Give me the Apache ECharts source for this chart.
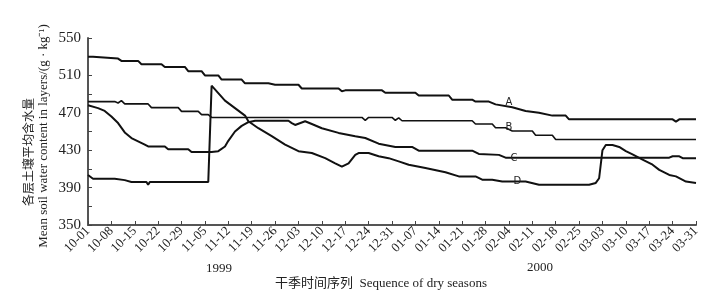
<!DOCTYPE html>
<html>
<head>
<meta charset="utf-8">
<script src="https://cdn.jsdelivr.net/npm/echarts@6/dist/echarts.min.js"></script>
<style>
  html, body { margin: 0; padding: 0; background: #fff; }
  #chart { width: 717px; height: 301px; }
</style>
</head>
<body>
<div id="chart"></div>
<script>
// x = days since 1999-10-01
const xTickLabels = ['10-01', '10-08', '10-15', '10-22', '10-29', '11-05', '11-12', '11-19', '11-26',
  '12-03', '12-10', '12-17', '12-24', '12-31', '01-07', '01-14', '01-21', '01-28', '02-04', '02-11',
  '02-18', '02-25', '03-03', '03-10', '03-17', '03-24', '03-31'];
const yTickLabels = [350, 390, 430, 470, 510, 550];

const daysA = [0, 1.5, 2, 9, 10, 15, 16, 22, 23, 29, 30, 34, 35, 39, 40, 46, 47, 54, 56, 63, 64, 75, 76, 77,
  88, 89, 98, 99, 108, 109, 115, 116, 120, 122, 127, 131, 135, 139, 143, 144, 175, 176, 177, 182];
const valuesA = [530, 530, 528, 528, 525.5, 525.5, 522, 522, 519, 519, 514.5, 514.5, 510, 510, 505.5, 505.5,
  501.5, 501.5, 500, 500, 496, 496, 493, 494, 494, 491.5, 491.5, 488.5, 488.5, 484, 484, 482, 482, 479,
  476, 472, 470, 467, 467, 463, 463, 460.5, 463, 463];

const daysB = [0, 8, 9, 10, 11, 18, 19, 27, 28, 33, 34, 36, 37, 82, 83, 84, 91, 92, 93, 94, 115, 116, 121,
  122, 125, 127, 133, 134, 139, 140, 182];
const valuesB = [482, 482, 480.5, 483, 479.5, 479.5, 475.5, 475.5, 471.5, 471.5, 468, 468, 465, 465, 462,
  465, 465, 462, 464.5, 461.5, 461.5, 458, 458, 454, 454, 450.5, 450.5, 446, 446, 441.5, 441.5];

const daysC = [0, 3, 5, 7, 9, 11, 13, 15, 17, 18, 23, 24, 30, 31, 37, 39, 41, 42, 44, 46, 48, 50, 60, 61,
  62, 65, 67, 70, 75, 80, 83, 87, 92, 97, 99, 115, 117, 123, 125, 174, 175, 177, 178, 182];
const valuesC = [478, 475, 472, 466, 459, 449, 443, 439.5, 436, 434, 434, 431, 431, 428, 428, 429, 434, 440,
  450, 456, 460, 461.5, 461.5, 459, 457, 461, 458, 453.5, 448.5, 445, 443, 437, 433.5, 433.5, 429.5, 429.5,
  426, 425, 422, 422, 423.5, 423.5, 421.5, 421.5];

const daysD = [0, 1.5, 8, 11, 13, 17.5, 18, 18.5, 36, 37, 38, 41, 44, 47, 48, 51, 55, 59, 63, 67, 71, 74,
  76, 78, 80, 81, 84, 87, 90, 93, 96, 101, 107, 111, 116, 118, 121, 124, 131, 135, 150, 152, 153, 154,
  155, 157, 159, 161, 163, 166, 169, 171, 174, 176, 179, 182];
const valuesD = [403.5, 399.5, 399.5, 398, 396, 396, 393, 396, 396, 499, 495, 483, 475, 467, 461, 453.5,
  445, 436, 429, 427, 421.5, 416, 412.5, 416, 425, 427, 427, 423.5, 421.5, 418, 414.5, 411, 406.5, 402,
  402, 398.5, 398.5, 396.5, 396.5, 393, 393, 395, 400, 430, 435.5, 435.5, 433.5, 429, 425.5, 420, 414.5,
  409, 403.5, 402, 396.5, 395];

// curve letters placed on the data scale
const curveNames = ['A', 'B', 'C', 'D'];
const labelDays = [126, 126, 127.5, 128.5];
const labelValues = [481, 454, 421, 396.5];

const pair = (xs, ys) => xs.map((x, i) => [x, ys[i]]);
const serif = 'Liberation Serif';

const chart = echarts.init(document.getElementById('chart'));

const makeSeries = (i, days, values, width) => ({
  name: curveNames[i],
  type: 'line',
  data: pair(days, values),
  symbol: 'none',
  lineStyle: { color: '#111', width: width },
  z: 3,
  markPoint: {
    symbol: 'circle',
    symbolSize: 0,
    data: [{ name: curveNames[i], coord: [labelDays[i], labelValues[i]] }],
    label: {
      show: true,
      position: 'inside',
      formatter: '{b}',
      fontFamily: 'DejaVu Sans',
      fontSize: 10,
      color: '#222'
    }
  }
});

const option = {
  animation: false,
  grid: { left: 88, right: 21, top: 38, bottom: 76 },
  xAxis: {
    type: 'value',
    min: 0,
    max: 182,
    interval: 7,
    axisLine: { show: true, lineStyle: { color: '#555', width: 2 } },
    axisTick: { show: true, inside: true, length: 4, lineStyle: { color: '#444' } },
    splitLine: { show: false },
    axisLabel: {
      rotate: 45,
      margin: 4,
      fontFamily: serif,
      fontSize: 13,
      color: '#222',
      formatter: v => xTickLabels[Math.round(v / 7)] || ''
    }
  },
  yAxis: {
    type: 'value',
    min: 350,
    max: 550,
    interval: 20,
    axisLine: { show: true, lineStyle: { color: '#555', width: 2 } },
    axisTick: { show: true, inside: true, length: 4, lineStyle: { color: '#444' } },
    splitLine: { show: false },
    axisLabel: {
      margin: 7,
      fontFamily: serif,
      fontSize: 15,
      color: '#222',
      formatter: v => yTickLabels.includes(v) ? String(v) : ''
    }
  },
  graphic: [
    {
      type: 'text', x: 28, y: 152, rotation: Math.PI / 2,
      style: { text: '各层土壤平均含水量', fontFamily: 'Noto Sans CJK SC', fontSize: 12,
        fill: '#222', align: 'center', verticalAlign: 'middle' }
    },
    {
      type: 'text', x: 44, y: 136, rotation: Math.PI / 2,
      style: { text: 'Mean soil water content in layers/(g · kg⁻¹)', fontFamily: serif, fontSize: 13,
        fill: '#222', align: 'center', verticalAlign: 'middle' }
    },
    {
      type: 'text', x: 219, y: 269,
      style: { text: '1999', fontFamily: serif, fontSize: 13, fill: '#222', align: 'center', verticalAlign: 'middle' }
    },
    {
      type: 'text', x: 540, y: 268,
      style: { text: '2000', fontFamily: serif, fontSize: 13, fill: '#222', align: 'center', verticalAlign: 'middle' }
    },
    {
      type: 'text', x: 381, y: 284,
      style: { text: '干季时间序列  Sequence of dry seasons', fontFamily: serif + ', Noto Sans CJK SC',
        fontSize: 13, fill: '#222', align: 'center', verticalAlign: 'middle' }
    }
  ],
  series: [
    makeSeries(0, daysA, valuesA, 2),
    makeSeries(1, daysB, valuesB, 1.6),
    makeSeries(2, daysC, valuesC, 2),
    makeSeries(3, daysD, valuesD, 2)
  ]
};

chart.setOption(option);
</script>
</body>
</html>
